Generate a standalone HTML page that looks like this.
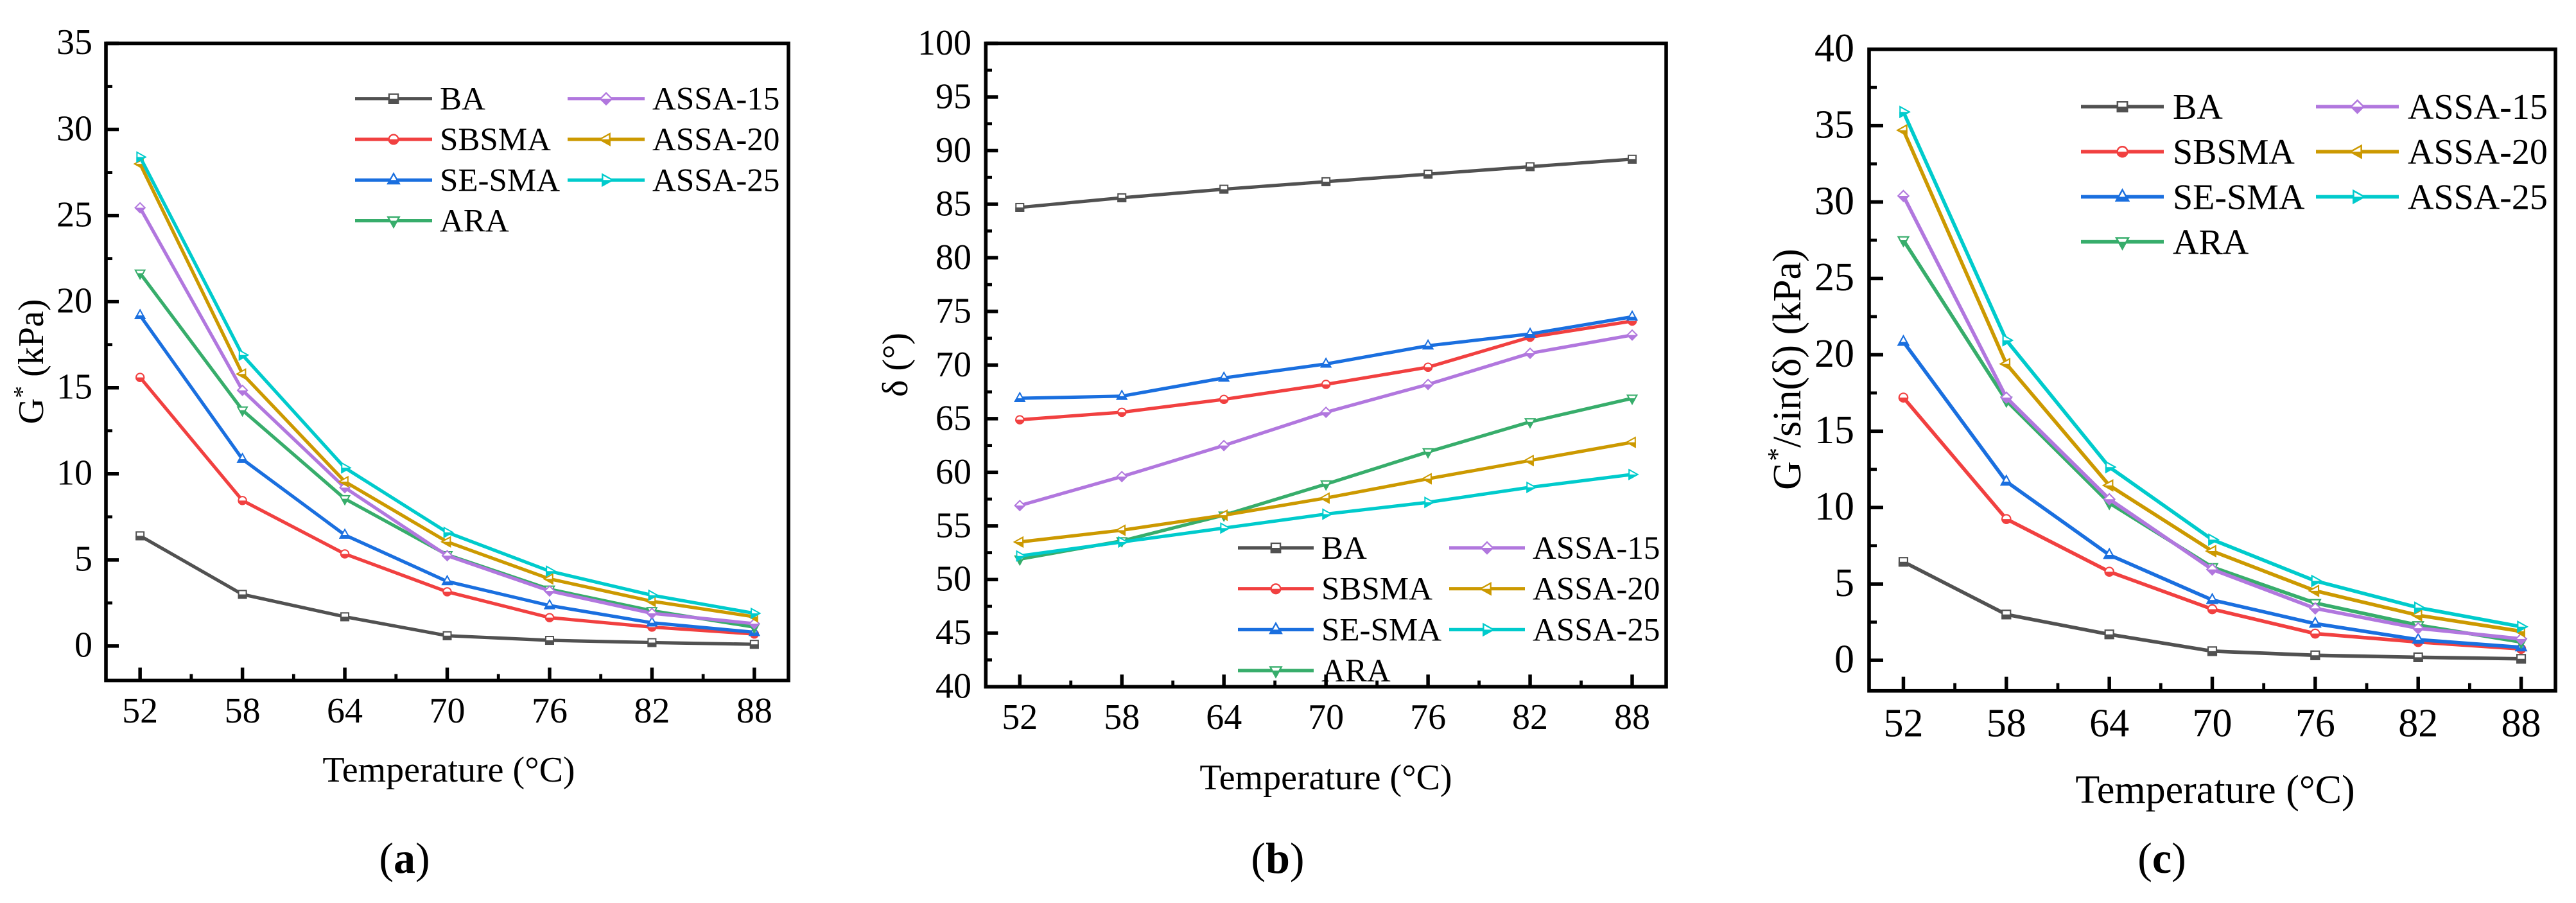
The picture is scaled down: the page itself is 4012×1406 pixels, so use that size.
<!DOCTYPE html>
<html lang="en">
<head>
<meta charset="utf-8">
<title>G*, phase angle and rutting factor versus temperature</title>
<style>
html,body{margin:0;padding:0;background:#fff;}
svg{display:block;}
text{font-family:"Liberation Serif","DejaVu Serif",serif;fill:#000;}
</style>
</head>
<body>
<svg id="figure" xmlns="http://www.w3.org/2000/svg" width="4012" height="1406" viewBox="0 0 4012 1406">
  <defs>
    <clipPath id="lower-half"><rect x="-30" y="0" width="60" height="30"/></clipPath>
  </defs>
  <rect x="0" y="0" width="4012" height="1406" fill="#fff"/>

  <g id="panel-a">
    <text x="699" y="1217" font-size="56" text-anchor="middle">Temperature (°C)</text>
    <text transform="translate(67,563) rotate(-90)" font-size="56" text-anchor="middle">G<tspan dy="-20" font-size="38">*</tspan><tspan dy="20"> (kPa)</tspan></text>
    <text x="630" y="1359" font-size="68" text-anchor="middle">(<tspan font-weight="bold">a</tspan>)</text>
  </g>

  <g id="panel-b">
    <text x="2065" y="1229" font-size="56" text-anchor="middle">Temperature (°C)</text>
    <text transform="translate(1413,568) rotate(-90)" font-size="56" text-anchor="middle">δ (°)</text>
    <text x="1990" y="1359" font-size="68" text-anchor="middle">(<tspan font-weight="bold">b</tspan>)</text>
  </g>

  <g id="panel-c">
    <text x="3450" y="1250" font-size="62" text-anchor="middle">Temperature (°C)</text>
    <text transform="translate(2804,575) rotate(-90)" font-size="62" text-anchor="middle">G<tspan dy="-22" font-size="42">*</tspan><tspan dy="22">/sin(δ) (kPa)</tspan></text>
    <text x="3367" y="1359" font-size="68" text-anchor="middle">(<tspan font-weight="bold">c</tspan>)</text>
  </g>
</svg>

<script>
// Shared categories and labels
const temperatures = [52, 58, 64, 70, 76, 82, 88];
const seriesNames = ['BA', 'SBSMA', 'SE-SMA', 'ARA', 'ASSA-15', 'ASSA-20', 'ASSA-25'];
const seriesColors = ['#515151', '#F14040', '#1A6FDF', '#37AD6B', '#B177DE', '#CC9900', '#00CBCC'];
const seriesMarkers = ['square', 'circle', 'up', 'down', 'diamond', 'left', 'right'];

// Panel (a): G* (kPa)
const aBA = [6.4, 3.0, 1.7, 0.6, 0.33, 0.2, 0.1];
const aSBSMA = [15.6, 8.45, 5.35, 3.15, 1.65, 1.1, 0.7];
const aSESMA = [19.2, 10.85, 6.45, 3.75, 2.35, 1.35, 0.8];
const aARA = [21.65, 13.7, 8.55, 5.3, 3.3, 2.05, 1.1];
const aASSA15 = [25.45, 14.85, 9.2, 5.25, 3.2, 1.9, 1.3];
const aASSA20 = [28.0, 15.8, 9.55, 6.05, 3.9, 2.6, 1.7];
const aASSA25 = [28.4, 16.9, 10.35, 6.6, 4.35, 2.95, 1.9];
const aYTicks = [0, 5, 10, 15, 20, 25, 30, 35];

// Panel (b): phase angle (deg)
const bBA = [84.7, 85.6, 86.4, 87.1, 87.8, 88.5, 89.2];
const bSBSMA = [64.9, 65.6, 66.8, 68.2, 69.8, 72.6, 74.1];
const bSESMA = [66.9, 67.1, 68.8, 70.1, 71.8, 72.9, 74.5];
const bARA = [51.9, 53.6, 56.0, 58.9, 61.9, 64.7, 66.9];
const bASSA15 = [56.9, 59.6, 62.5, 65.6, 68.2, 71.1, 72.8];
const bASSA20 = [53.5, 54.6, 56.0, 57.6, 59.4, 61.1, 62.8];
const bASSA25 = [52.2, 53.5, 54.8, 56.1, 57.2, 58.6, 59.8];
const bYTicks = [40, 45, 50, 55, 60, 65, 70, 75, 80, 85, 90, 95, 100];

// Panel (c): G*/sin(delta) (kPa)
const cBA = [6.45, 3.0, 1.7, 0.6, 0.33, 0.2, 0.1];
const cSBSMA = [17.2, 9.25, 5.8, 3.35, 1.75, 1.2, 0.75];
const cSESMA = [20.85, 11.7, 6.9, 3.95, 2.4, 1.35, 0.85];
const cARA = [27.5, 17.0, 10.3, 6.1, 3.75, 2.3, 1.2];
const cASSA15 = [30.4, 17.2, 10.55, 5.95, 3.4, 2.1, 1.4];
const cASSA20 = [34.7, 19.4, 11.45, 7.15, 4.55, 2.95, 1.9];
const cASSA25 = [35.9, 20.95, 12.65, 7.9, 5.2, 3.45, 2.2];
const cYTicks = [0, 5, 10, 15, 20, 25, 30, 35, 40];

const NS = 'http://www.w3.org/2000/svg';

function mk(tag, attrs, parent) {
  const el = document.createElementNS(NS, tag);
  for (const k in attrs) el.setAttribute(k, attrs[k]);
  if (parent) parent.appendChild(el);
  return el;
}

function markerShape(kind, color, parent, extra) {
  const base = Object.assign({ stroke: color, 'stroke-width': 2, 'stroke-linejoin': 'miter' }, extra);
  if (kind === 'square') return mk('rect', Object.assign(base, { x: -6, y: -6, width: 12, height: 12 }), parent);
  if (kind === 'circle') return mk('circle', Object.assign(base, { cx: 0, cy: 0, r: 6.2 }), parent);
  const outlines = {
    up: '0,-8.5 7.4,4.8 -7.4,4.8',
    down: '0,8.5 7.4,-4.8 -7.4,-4.8',
    diamond: '0,-7.6 7.6,0 0,7.6 -7.6,0',
    left: '-8.5,0 4.8,-7.4 4.8,7.4',
    right: '8.5,0 -4.8,-7.4 -4.8,7.4'
  };
  return mk('polygon', Object.assign(base, { points: outlines[kind] }), parent);
}

function drawMarker(kind, color, cx, cy, scale, parent) {
  const g = mk('g', { transform: 'translate(' + cx + ',' + cy + ') scale(' + scale + ')' }, parent);
  markerShape(kind, color, g, { fill: '#fff' });
  markerShape(kind, color, g, { fill: color, 'clip-path': 'url(#lower-half)' });
  return g;
}

function drawPanel(cfg) {
  const root = document.getElementById(cfg.id);
  const L = cfg.left, R = cfg.right, T = cfg.top, B = cfg.bottom;
  const xScale = v => L + (v - 50) / 40 * (R - L);
  const yScale = v => B - (v - cfg.yMin) / (cfg.yMax - cfg.yMin) * (B - T);

  // Ticks
  const xAxis = mk('g', {}, root);
  
  
  temperatures.forEach((t, i) => {
    const px = xScale(t);
    const tick = mk('line', { x1: px, x2: px, y1: B, y2: B - cfg.major, stroke: '#000', 'stroke-width': 5.5 }, xAxis);
    
    
    const label = mk('text', { x: px, y: cfg.xLabelY, 'font-size': cfg.font, 'text-anchor': 'middle' }, xAxis);
    label.textContent = t;
    
    
    if (i < temperatures.length - 1) {
      const mx = xScale((t + temperatures[i + 1]) / 2);
      const minor = mk('line', { x1: mx, x2: mx, y1: B, y2: B - cfg.minor, stroke: '#000', 'stroke-width': 4.8 }, xAxis);
      
      
    }
  });

  const yAxis = mk('g', {}, root);
  
  
  cfg.yTicks.forEach((v, i) => {
    const py = yScale(v);
    const tick = mk('line', { x1: L, x2: L + cfg.major, y1: py, y2: py, stroke: '#000', 'stroke-width': 5.5 }, yAxis);
    
    
    const label = mk('text', { x: cfg.yLabelX, y: py + cfg.yLabelDy, 'font-size': cfg.font, 'text-anchor': 'end' }, yAxis);
    label.textContent = v;
    
    
    if (i < cfg.yTicks.length - 1) {
      const my = yScale((v + cfg.yTicks[i + 1]) / 2);
      const minor = mk('line', { x1: L, x2: L + cfg.minor, y1: my, y2: my, stroke: '#000', 'stroke-width': 4.8 }, yAxis);
      
      
    }
  });

  const frame = mk('rect', { x: L, y: T, width: R - L, height: B - T, fill: 'none', stroke: '#000', 'stroke-width': 5.6 }, root);
  
  

  // Series
  cfg.series.forEach((vals, s) => {
    const g = mk('g', {}, root);
    
    
    const pts = vals.map((v, i) => xScale(temperatures[i]) + ',' + yScale(v)).join(' ');
    const line = mk('polyline', { points: pts, fill: 'none', stroke: seriesColors[s], 'stroke-width': cfg.lineWidth, 'stroke-linejoin': 'round' }, g);
    
    
    vals.forEach((v, i) => {
      const m = drawMarker(seriesMarkers[s], seriesColors[s], xScale(temperatures[i]), yScale(v), cfg.markerScale, g);
      
      
    });
  });

  // Legend
  const lg = mk('g', {}, root);
  
  
  seriesNames.forEach((name, s) => {
    const col = s < 4 ? 0 : 1;
    const row = s < 4 ? s : s - 4;
    const x0 = cfg.legendX[col];
    const y0 = cfg.legendY + row * cfg.legendStep;
    const entry = mk('g', {}, lg);
    
    
    const ln = mk('line', { x1: x0, x2: x0 + cfg.legendLen, y1: y0, y2: y0, stroke: seriesColors[s], 'stroke-width': cfg.lineWidth }, entry);
    
    
    const sym = drawMarker(seriesMarkers[s], seriesColors[s], x0 + cfg.legendLen / 2, y0, cfg.markerScale * 1.18, entry);
    
    
    const tx = mk('text', { x: x0 + cfg.legendLen + cfg.legendGap, y: y0 + cfg.legendDy, 'font-size': cfg.legendFont }, entry);
    tx.textContent = name;
    
    
  });
}

drawPanel({
  id: 'panel-a', left: 165, right: 1228, top: 67.5, bottom: 1059.5, yMin: -2, yMax: 35,
  yTicks: aYTicks, major: 20, minor: 10, font: 56, xLabelY: 1125, yLabelX: 144, yLabelDy: 16.7, markerScale: 1, lineWidth: 5.2,
  series: [aBA, aSBSMA, aSESMA, aARA, aASSA15, aASSA20, aASSA25],
  legendX: [553, 884], legendY: 153.7, legendStep: 63.3, legendLen: 120, legendGap: 12, legendDy: 17, legendFont: 51
});
drawPanel({
  id: 'panel-b', left: 1535.3, right: 2595, top: 67.5, bottom: 1069.3, yMin: 40, yMax: 100,
  yTicks: bYTicks, major: 19, minor: 9.7, font: 56, xLabelY: 1135, yLabelX: 1513, yLabelDy: 17.4, markerScale: 1, lineWidth: 5.2,
  series: [bBA, bSBSMA, bSESMA, bARA, bASSA15, bASSA20, bASSA25],
  legendX: [1928, 2257], legendY: 853, legendStep: 63.7, legendLen: 118, legendGap: 12, legendDy: 17, legendFont: 51
});
drawPanel({
  id: 'panel-c', left: 2911, right: 3980, top: 76.7, bottom: 1075.7, yMin: -2, yMax: 40,
  yTicks: cYTicks, major: 22, minor: 12, font: 62, xLabelY: 1146.7, yLabelX: 2888, yLabelDy: 18.7, markerScale: 1.08, lineWidth: 5.6,
  series: [cBA, cSBSMA, cSESMA, cARA, cASSA15, cASSA20, cASSA25],
  legendX: [3241, 3607], legendY: 166, legendStep: 70.2, legendLen: 129, legendGap: 14, legendDy: 19, legendFont: 56
});
</script>
</body>
</html>
